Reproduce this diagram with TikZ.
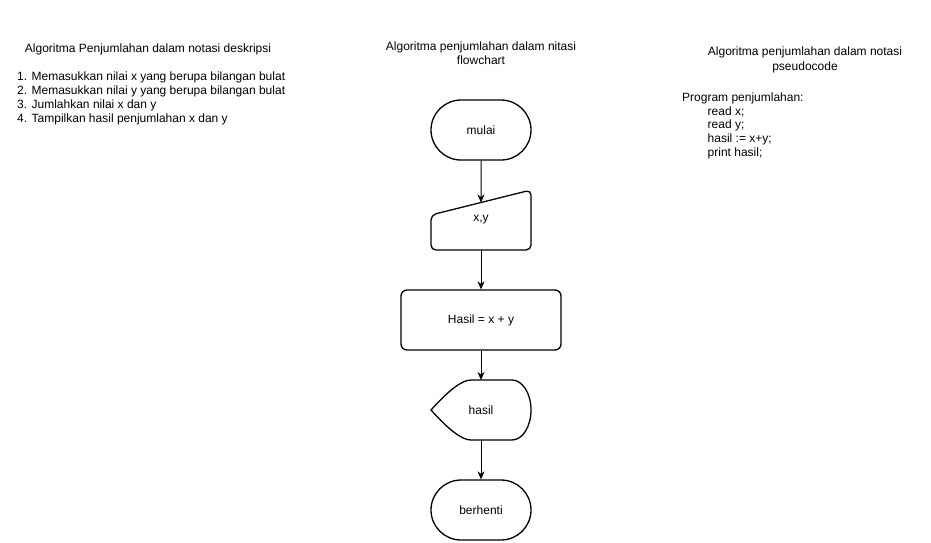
\documentclass[tikz,border=0pt]{standalone}
\usepackage{fontspec}
\setmainfont{Liberation Sans}
\usetikzlibrary{shapes.misc,arrows.meta}
\begin{document}
\begin{tikzpicture}[x=1pt,y=-1pt,
  every node/.style={font=\fontsize{12}{14}\selectfont},
  txt/.style={inner sep=0pt},
  lineL/.style={inner sep=0pt, anchor=base west},
  lineC/.style={inner sep=0pt, anchor=base},
  terminal/.style={rounded rectangle, draw, line width=1.3pt, minimum width=100pt, minimum height=60pt, inner sep=0pt},
  procbox/.style={rectangle, rounded corners=6pt, draw, line width=1.3pt, minimum width=160pt, minimum height=60pt},
  shapeline/.style={draw, line width=1.3pt},
  flow/.style={draw, line width=1pt, -{Stealth[length=8pt,width=7pt,inset=2.5pt]}}
]
\useasboundingbox (0,0) rectangle (931,542);

% left column: descriptive notation
\node[lineC] (ltitle) at (148,52) {Algoritma Penjumlahan dalam notasi deskripsi};
\node[lineL] (l1) at (17,80.5) {1. Memasukkan nilai x yang berupa bilangan bulat};
\node[lineL] (l2) at (17,94.5) {2. Memasukkan nilai y yang berupa bilangan bulat};
\node[lineL] (l3) at (17,108.5) {3. Jumlahkan nilai x dan y};
\node[lineL] (l4) at (17,122.5) {4. Tampilkan hasil penjumlahan x dan y};

% center column: flowchart
\node[lineC] (ctitle1) at (481,50.5) {Algoritma penjumlahan dalam nitasi};
\node[lineC] (ctitle2) at (481,64) {flowchart};

\node[terminal] (mulai) at (481,130) {mulai};

\path[shapeline, rounded corners=5pt] (431,215) -- (531,190) -- (531,250) -- (431,250) -- cycle;
\node[txt] (xy) at (481,220) {x,y};
\coordinate (xytop) at (481,202.5);
\coordinate (xybot) at (481,250);

\node[procbox] (hasilbox) at (481,320) {Hasil = x + y};

\path[shapeline] (431,410) .. controls (449,390) and (462,380) .. (471,380)
  -- (512,380) .. controls (522.5,380) and (531,393.4) .. (531,410)
  .. controls (531,426.6) and (522.5,440) .. (512,440)
  -- (471,440) .. controls (462,440) and (449,430) .. (431,410) -- cycle;
\node[txt] (hasil) at (481,410) {hasil};
\coordinate (disptop) at (481,380);
\coordinate (dispbot) at (481,440);

\node[terminal] (berhenti) at (481,510) {berhenti};

\path[flow] (mulai) -- (xytop);
\path[flow] (xybot) -- (hasilbox);
\path[flow] (hasilbox) -- (disptop);
\path[flow] (dispbot) -- (berhenti);

% right column: pseudocode
\node[lineC] (rtitle1) at (805,55.5) {Algoritma penjumlahan dalam notasi};
\node[lineC] (rtitle2) at (805,70) {pseudocode};
\node[lineL] (p0) at (682,101.5) {Program penjumlahan:};
\node[lineL] (p1) at (707.5,115) {read x;};
\node[lineL] (p2) at (707.5,128.5) {read y;};
\node[lineL] (p3) at (707.5,142.3) {hasil := x+y;};
\node[lineL] (p4) at (707.5,156) {print hasil;};
\end{tikzpicture}
\end{document}
